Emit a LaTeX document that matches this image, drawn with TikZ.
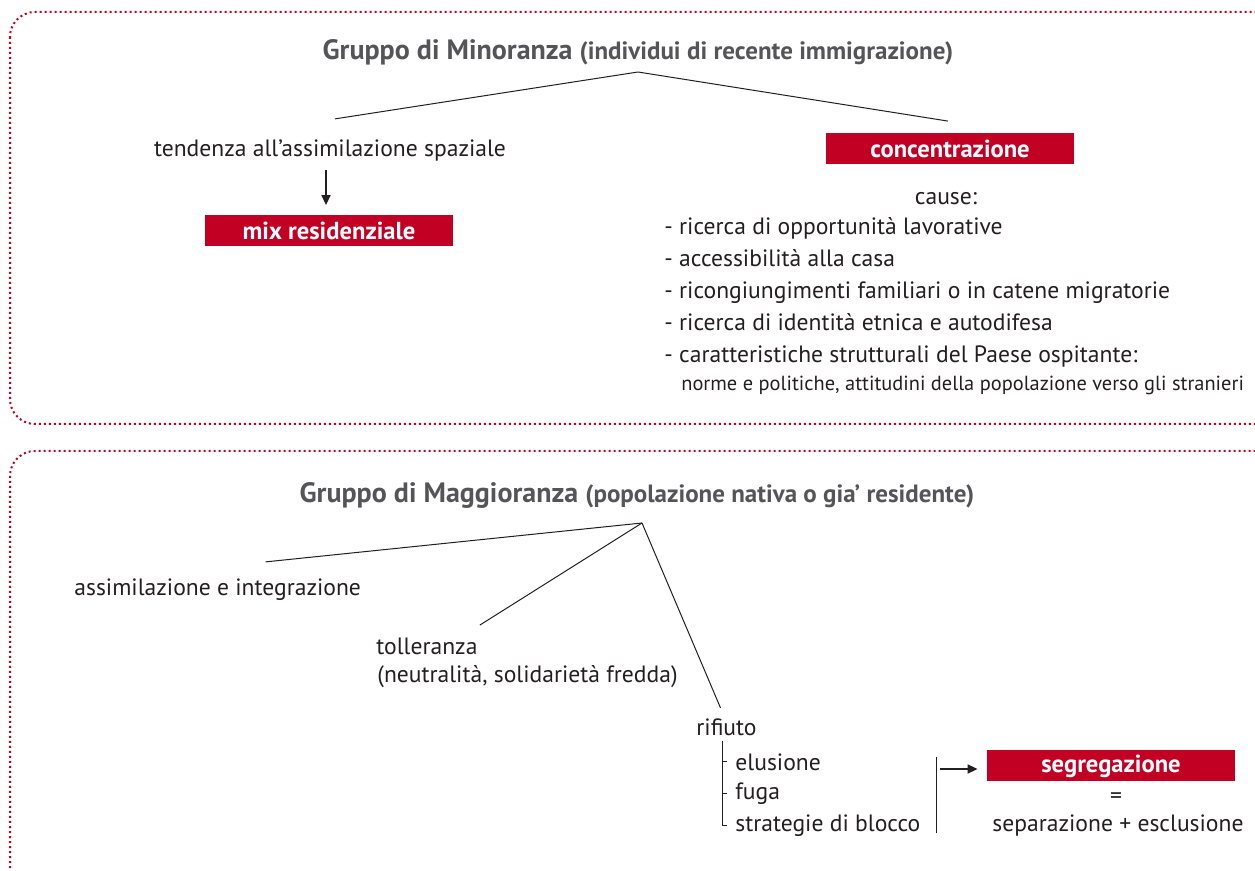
\documentclass[tikz,border=0pt]{standalone}
\usepackage{fontspec}
\setmainfont{PT Sans}
\usetikzlibrary{arrows.meta,positioning}
\definecolor{BoxRed}{RGB}{193,0,36}
\definecolor{TitleGray}{RGB}{85,85,88}
\definecolor{InkBlack}{RGB}{35,31,32}
\newcommand{\subtitlefont}{\fontsize{12.5}{14}\selectfont}

\tikzset{
  frame/.style={draw=BoxRed, line width=1pt, dash pattern=on 1pt off 1.5pt, rounded corners=12.5pt},
  txt/.style={inner sep=1pt, text=InkBlack, font=\fontsize{11.8}{13}\selectfont},
  smalltxt/.style={txt, font=\fontsize{10.2}{12}\selectfont},
  redbox/.style={fill=BoxRed, text=white, font=\bfseries\fontsize{12.3}{13}\selectfont,
    minimum width=124pt, minimum height=15.5pt, inner sep=0pt},
  title/.style={text=TitleGray, font=\bfseries\fontsize{14}{15}\selectfont},
  link/.style={InkBlack, line width=0.5pt},
  arr/.style={InkBlack, line width=0.8pt, -{Triangle[length=5pt,width=4.5pt]}}
}

\begin{document}
\begin{tikzpicture}[x=0.5pt, y=-0.5pt]
  \useasboundingbox (0,0) rectangle (1255,871);
  % frames
  \draw[frame] (10,12) rectangle (1280,424);
  \draw[frame] (10,451) rectangle (1280,900);

  % minority group
  \node[title] (mintitle) at (638,52) {Gruppo di Minoranza {\subtitlefont(individui di recente immigrazione)}};
  \coordinate (minfork) at (638,72);
  \node[txt] (tend) at (330,151) {tendenza all’assimilazione spaziale};
  \node[redbox] (mix) at (329,231) {mix residenziale};
  \node[redbox] (conc) at (950,149) {concentrazione};
  \draw[link] (minfork) -- ([xshift=2.5pt,yshift=9.5pt]tend.north);
  \draw[link] (minfork) -- ([xshift=-1pt,yshift=6pt]conc.north);
  \draw[arr, shorten <=3pt, shorten >=5pt] ([xshift=-2pt]tend.south) -- ([xshift=-2pt]tend.south |- mix.north);

  \node[txt] (cause) at (946,199) {cause:};
  \foreach \txt [count=\i] in {ricerca di opportunità lavorative,
      accessibilità alla casa,
      ricongiungimenti familiari o in catene migratorie,
      ricerca di identità etnica e autodifesa,
      caratteristiche strutturali del Paese ospitante:}
    \node[txt, anchor=base west] (c\i) at (662,203+32*\i) {- \txt};
  \node[smalltxt, anchor=base west] (c6) at (679,391) {norme e politiche, attitudini della popolazione verso gli stranieri};

  % majority group
  \node[title] (majtitle) at (637,495) {Gruppo di Maggioranza {\subtitlefont(popolazione nativa o gia’ residente)}};
  \coordinate (majfork) at (642,523);
  \node[txt, anchor=base west] (assim) at (72,596) {assimilazione e integrazione};
  \node[txt, anchor=base west] (toll) at (374,655) {tolleranza};
  \node[txt, anchor=base west] (tollnote) at (375,683) {(neutralità, solidarietà fredda)};
  \node[txt, anchor=base west] (rif) at (694,736) {rifiuto};
  \draw[link] (majfork) -- ([xshift=24pt,yshift=7.5pt]assim.north);
  \draw[link] (majfork) -- ([yshift=5.5pt]toll.north east);
  \draw[link] (majfork) -- ([xshift=-3pt,yshift=4.5pt]rif.north);

  \node[txt, anchor=west, inner xsep=4pt] (elus) at (727,762) {elusione};
  \node[txt, anchor=west, inner xsep=4pt] (fuga) at (727,794) {fuga};
  \node[txt, anchor=west, inner xsep=4pt] (strat) at (727,826) {strategie di blocco};
  \coordinate (bracktop) at (722,741);
  \draw[link] (bracktop) |- (strat.west);
  \foreach \n in {elus,fuga}
    \draw[link] (\n.west) -- (\n.west -| bracktop);

  \node[redbox] (segr) at (1111,766) {segregazione};
  \node[txt] (eq) at (1116,798) {=};
  \node[txt] (sepexcl) at (1118,826) {separazione + esclusione};
  \coordinate (bartop) at (936,757);
  \coordinate (barbot) at (936,833);
  \draw[link] (bartop) -- (barbot);
  \draw[arr, shorten <=2pt, shorten >=4.5pt] ([yshift=-1.5pt]bartop |- segr.west) -- ([yshift=-1.5pt]segr.west);
\end{tikzpicture}
\end{document}
